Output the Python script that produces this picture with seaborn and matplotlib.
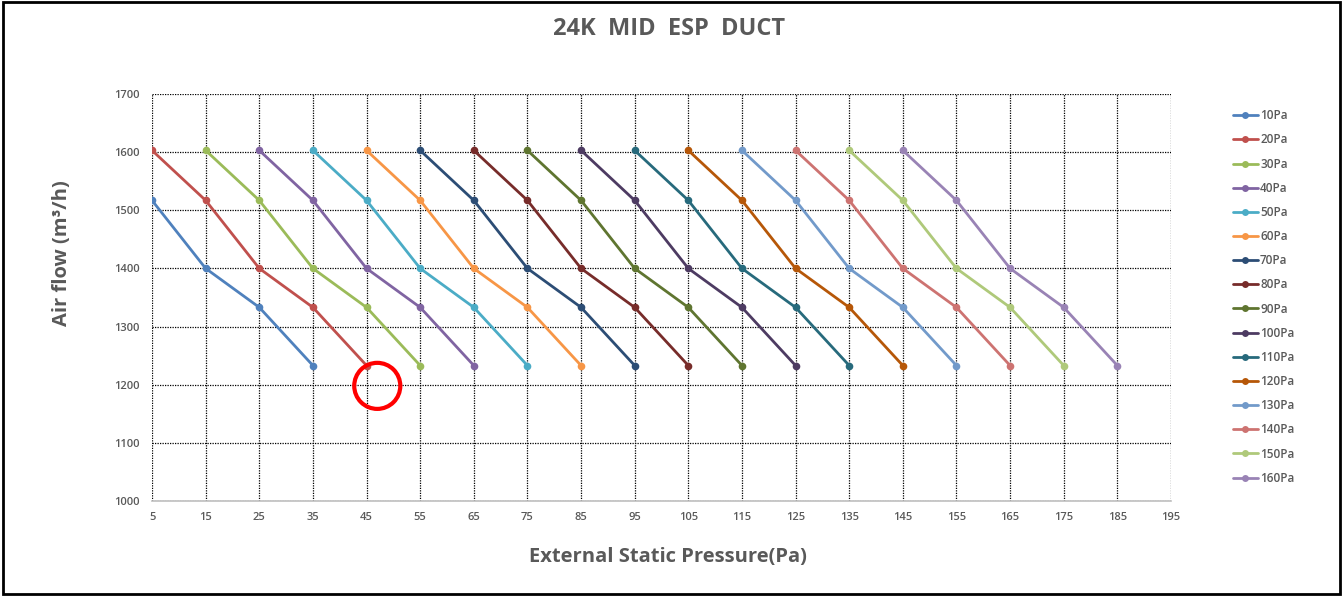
import numpy as np
import pandas as pd
import matplotlib
matplotlib.use("Agg")
import matplotlib.pyplot as plt
from matplotlib.patches import Rectangle
from matplotlib.lines import Line2D
import seaborn as sns

# External static pressure grid (Pa)
esp_ticks = [5, 15, 25, 35, 45, 55, 65, 75, 85, 95, 105, 115, 125, 135, 145, 155, 165, 175, 185, 195]

series_names = ["10Pa", "20Pa", "30Pa", "40Pa", "50Pa", "60Pa", "70Pa", "80Pa",
                "90Pa", "100Pa", "110Pa", "120Pa", "130Pa", "140Pa", "150Pa", "160Pa"]

# Each setting: pressures and air flow readings
series_esp = {
    "10Pa": [5, 15, 25, 35],
    "20Pa": [5, 15, 25, 35, 45],
    "30Pa": [15, 25, 35, 45, 55],
    "40Pa": [25, 35, 45, 55, 65],
    "50Pa": [35, 45, 55, 65, 75],
    "60Pa": [45, 55, 65, 75, 85],
    "70Pa": [55, 65, 75, 85, 95],
    "80Pa": [65, 75, 85, 95, 105],
    "90Pa": [75, 85, 95, 105, 115],
    "100Pa": [85, 95, 105, 115, 125],
    "110Pa": [95, 105, 115, 125, 135],
    "120Pa": [105, 115, 125, 135, 145],
    "130Pa": [115, 125, 135, 145, 155],
    "140Pa": [125, 135, 145, 155, 165],
    "150Pa": [135, 145, 155, 165, 175],
    "160Pa": [145, 155, 165, 175, 185],
}
series_flow = {
    "10Pa": [1517, 1400, 1333, 1233],
    "20Pa": [1603, 1517, 1400, 1333, 1233],
    "30Pa": [1603, 1517, 1400, 1333, 1233],
    "40Pa": [1603, 1517, 1400, 1333, 1233],
    "50Pa": [1603, 1517, 1400, 1333, 1233],
    "60Pa": [1603, 1517, 1400, 1333, 1233],
    "70Pa": [1603, 1517, 1400, 1333, 1233],
    "80Pa": [1603, 1517, 1400, 1333, 1233],
    "90Pa": [1603, 1517, 1400, 1333, 1233],
    "100Pa": [1603, 1517, 1400, 1333, 1233],
    "110Pa": [1603, 1517, 1400, 1333, 1233],
    "120Pa": [1603, 1517, 1400, 1333, 1233],
    "130Pa": [1603, 1517, 1400, 1333, 1233],
    "140Pa": [1603, 1517, 1400, 1333, 1233],
    "150Pa": [1603, 1517, 1400, 1333, 1233],
    "160Pa": [1603, 1517, 1400, 1333, 1233],
}

colors = ["#4F81BD", "#C0504D", "#9BBB59", "#8064A2", "#4BACC6", "#F79646",
          "#2C4D75", "#772C2A", "#5F7530", "#4D3B62", "#276A7C", "#B65708",
          "#729ACA", "#CD7371", "#AFC97A", "#9983B5"]

# Highlighted operating point
mark_x, mark_y = 47, 1198

rows = []
for name in series_names:
    for x, y in zip(series_esp[name], series_flow[name]):
        rows.append({"esp": x, "flow": y, "series": name})
df = pd.DataFrame(rows)

sns.set_theme(style="white")
plt.rcParams["font.family"] = ["Open Sans", "DejaVu Sans"]

grey = "#595959"
fig = plt.figure(figsize=(13.43, 5.96), dpi=100)
ax = fig.add_axes([0.1132, 0.1594, 0.8719 - 0.1132, 0.8423 - 0.1594])

sns.lineplot(data=df, x="esp", y="flow", hue="series", hue_order=series_names,
             palette=colors, marker="o", markersize=5.5, markeredgewidth=0,
             linewidth=2, legend=False, ax=ax, sort=False)

ax.set_xlim(5, 195)
ax.set_ylim(1000, 1700)
ax.set_xticks(esp_ticks)
ax.set_yticks(range(1000, 1701, 100))
ax.set_xticklabels([str(t) for t in esp_ticks], fontsize=8, color=grey, fontweight="semibold")
ax.set_yticklabels([str(t) for t in range(1000, 1701, 100)], fontsize=8, color=grey, fontweight="semibold")
ax.tick_params(axis="both", length=0)
ax.tick_params(axis="y", pad=9)
ax.tick_params(axis="x", pad=8)

ax.grid(True, linestyle=(0, (1, 1)), color="black", linewidth=0.9)
for s in ["top", "right", "left"]:
    ax.spines[s].set_visible(False)
ax.spines["bottom"].set_color("#BFBFBF")
ax.spines["bottom"].set_linewidth(1.2)
ax.set_axisbelow(True)

ax.set_xlabel("")
ax.set_ylabel("")
fig.text(0.4985, 0.952, "24K  MID  ESP  DUCT", ha="center", va="center",
         fontsize=17, fontweight="bold", color=grey)
fig.text(0.4975, 0.065, "External Static Pressure(Pa)", ha="center", va="center",
         fontsize=14.5, fontweight="bold", color=grey)
fig.text(0.046, 0.575, "Air flow (m³/h)", ha="center", va="center", rotation=90,
         fontsize=14.5, fontweight="bold", color=grey)

# Highlight ring
ax.scatter([mark_x], [mark_y], s=1100, facecolors="none", edgecolors="#FF0000",
           linewidths=3, zorder=5, clip_on=False)

handles = [Line2D([0], [0], color=c, marker="o", markersize=5, markeredgewidth=0, linewidth=2)
           for c in colors]
leg = fig.legend(handles, series_names, loc="upper left", bbox_to_anchor=(0.9145, 0.8245),
                 frameon=False, fontsize=8.5, handlelength=2.1, handletextpad=0.2,
                 labelspacing=0.945, borderaxespad=0)
for t in leg.get_texts():
    t.set_color(grey)
    t.set_fontweight("semibold")

fig.patches.append(Rectangle((0.002, 0.003), 0.996, 0.994, transform=fig.transFigure,
                             fill=False, edgecolor="black", linewidth=2))

fig.savefig("out.png", dpi=100, facecolor="white")
